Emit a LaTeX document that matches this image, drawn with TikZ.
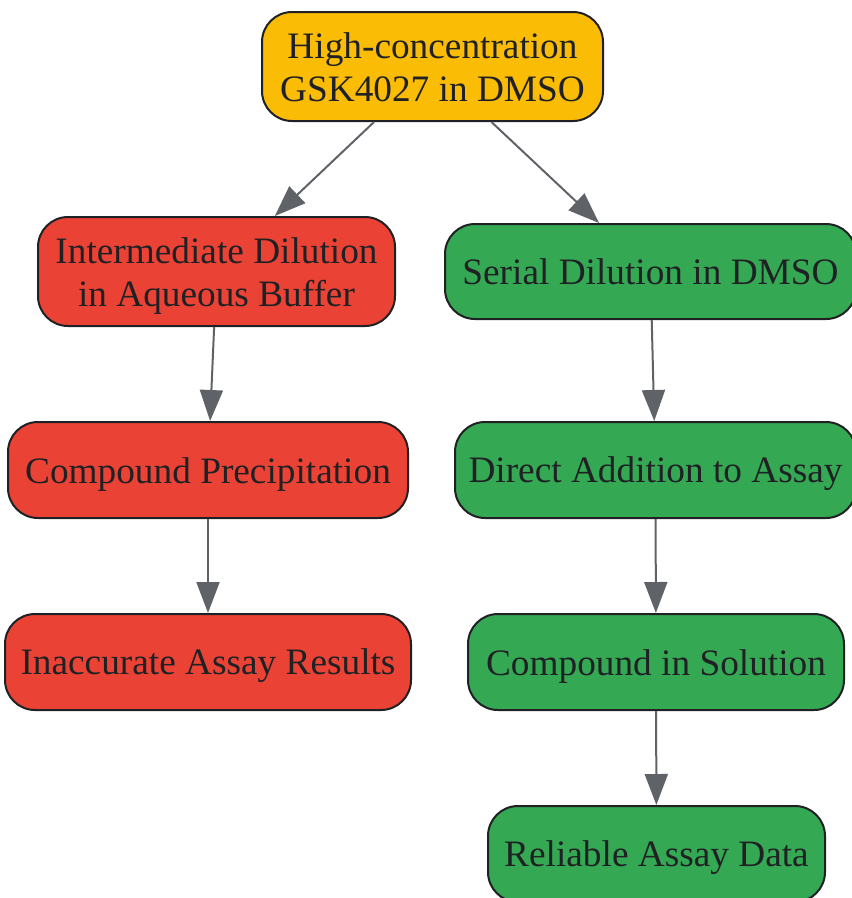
\documentclass[tikz,border=0pt]{standalone}
\usepackage{fontspec}
\setmainfont{Liberation Serif}
\usetikzlibrary{arrows.meta}
\definecolor{yel}{HTML}{FBBC05}
\definecolor{redc}{HTML}{EA4335}
\definecolor{grn}{HTML}{34A853}
\definecolor{txt}{HTML}{202124}
\definecolor{edge}{HTML}{5F6368}
\newcommand{\mystr}{\rule[-8pt]{0pt}{42pt}}
\tikzset{
  box/.style={draw=txt, line width=2pt, rounded corners=30pt, text=txt, align=center,
    inner sep=0pt, font=\fontsize{37.3pt}{43pt}\selectfont},
  conn/.style={draw=edge, line width=2pt, -{Triangle[length=31pt,width=23pt]}}
}
\begin{document}
\begin{tikzpicture}[x=1pt,y=-1pt]
\useasboundingbox (0,0) rectangle (852,898);
\node[box, fill=yel, minimum width=341pt, minimum height=109pt] (top) at (432.5,66.5) {\mystr High-concentration\\\mystr GSK4027 in DMSO};
\node[box, fill=redc, minimum width=357pt, minimum height=109pt] (inter) at (216.5,271.5) {\mystr Intermediate Dilution\\\mystr in Aqueous Buffer};
\node[box, fill=grn, minimum width=411pt, minimum height=95pt] (serial) at (650.5,271.5) {\mystr Serial Dilution in DMSO};
\node[box, fill=redc, minimum width=400pt, minimum height=96pt] (precip) at (208,470) {\mystr Compound Precipitation};
\node[box, fill=grn, minimum width=401pt, minimum height=96pt] (direct) at (655.5,470) {\mystr Direct Addition to Assay};
\node[box, fill=redc, minimum width=406pt, minimum height=96pt] (inacc) at (208,662) {\mystr Inaccurate Assay Results};
\node[box, fill=grn, minimum width=376pt, minimum height=96pt] (sol) at (656,662) {\mystr Compound in Solution};
\node[box, fill=grn, minimum width=337pt, minimum height=96pt] (rel) at (656.5,854) {\mystr Reliable Assay Data};
\draw[conn] (top) -- (inter);
\draw[conn] (top) -- (serial);
\draw[conn] (inter) -- (precip);
\draw[conn] (serial) -- (direct);
\draw[conn] (precip) -- (inacc);
\draw[conn] (direct) -- (sol);
\draw[conn] (sol) -- (rel);
\end{tikzpicture}
\end{document}
